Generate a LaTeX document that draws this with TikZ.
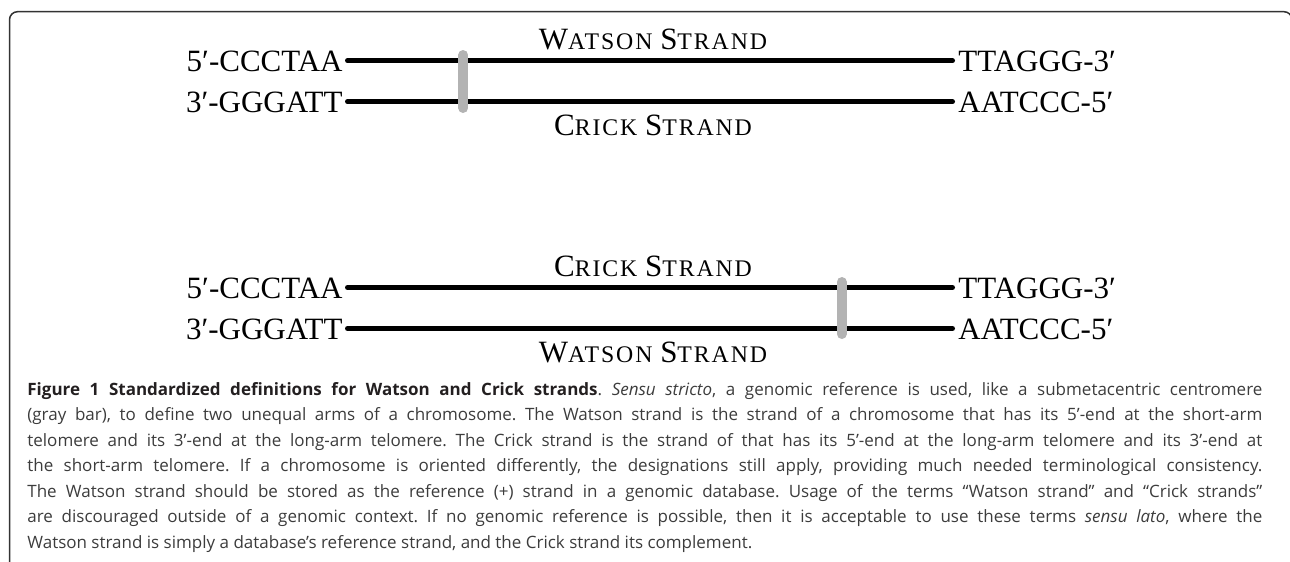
\documentclass[tikz,border=0pt]{standalone}
\usepackage{fontspec}
\setmainfont{Liberation Serif}
\newfontfamily\capfont{Open Sans}
\newfontfamily\scfont[LetterSpace=8]{Liberation Serif}
\newcommand\fsc[2]{#1{\fontsize{11.9pt}{14pt}\scfont #2}}
\definecolor{barcol}{HTML}{B3B3B3}
\definecolor{framecol}{HTML}{333333}
\definecolor{captxt}{HTML}{3C3C3C}
\definecolor{capbold}{HTML}{231F20}
\tikzset{
  strand/.style={line width=2.5pt, line cap=round, black},
  centro/.style={line width=5pt, line cap=round, barcol},
  seq/.style={inner sep=0pt, font=\fontsize{15.5pt}{18pt}\selectfont},
  lab/.style={inner sep=0pt, anchor=base, font=\fontsize{15.5pt}{18pt}\selectfont},
  captext/.style={inner sep=0pt, anchor=base west, text=captxt, font=\capfont\fontsize{8.5pt}{10pt}\selectfont\frenchspacing},
  framestyle/.style={line width=0.75pt, framecol, rounded corners=4pt}
}
\newcommand\capline[1]{\makebox[617.5pt][s]{#1}}
\begin{document}
\begin{tikzpicture}[x=0.5pt, y=-0.5pt]
\useasboundingbox (0,0) rectangle (1290,562);
% frame
\draw[framestyle] (9.5,570) -- (9.5,11.7) -- (1292,11.7) -- (1292,60);

% ---- top group ----
\coordinate (a1) at (347.5,60.7);
\coordinate (b1) at (952.5,60.7);
\coordinate (a2) at (347.5,101.7);
\coordinate (b2) at (952.5,101.7);
\node[seq, anchor=base east] (l1) at (343,71.5) {5′-CCCTAA};
\node[seq, anchor=base east] (l2) at (343,112.5) {3′-GGGATT};
\node[seq, anchor=base west] (r1) at (958,71.5) {TTAGGG-3′};
\node[seq, anchor=base west] (r2) at (958,112.5) {AATCCC-5′};
\draw[strand] (a1) -- (b1);
\draw[strand] (a2) -- (b2);
\coordinate (c1t) at (463.3,55);
\coordinate (c1b) at (463.3,108);
\draw[centro] (c1t) -- (c1b);
\node[lab] (wt) at (653,49) {\fsc{W}{ATSON} \fsc{S}{TRAND}};
\node[lab] (ct) at (653,135) {\fsc{C}{RICK} \fsc{S}{TRAND}};

% ---- bottom group ----
\coordinate (a3) at (347.5,287.5);
\coordinate (b3) at (952.5,287.5);
\coordinate (a4) at (347.5,328.5);
\coordinate (b4) at (952.5,328.5);
\node[seq, anchor=base east] (l3) at (343,298.3) {5′-CCCTAA};
\node[seq, anchor=base east] (l4) at (343,339.3) {3′-GGGATT};
\node[seq, anchor=base west] (r3) at (958,298.3) {TTAGGG-3′};
\node[seq, anchor=base west] (r4) at (958,339.3) {AATCCC-5′};
\draw[strand] (a3) -- (b3);
\draw[strand] (a4) -- (b4);
\coordinate (c2t) at (841.7,282);
\coordinate (c2b) at (841.7,334);
\draw[centro] (c2t) -- (c2b);
\node[lab] (cb) at (653,276) {\fsc{C}{RICK} \fsc{S}{TRAND}};
\node[lab] (wb) at (653,362) {\fsc{W}{ATSON} \fsc{S}{TRAND}};

% ---- caption ----
\node[captext] (cap1) at (27,395) {\capline{{\bfseries\color{capbold}Figure 1 Standardized definitions for Watson and Crick strands}. \textit{Sensu stricto}, a genomic reference is used, like a submetacentric centromere}};
\node[captext] (cap2) at (27,420.5) {\capline{(gray bar), to define two unequal arms of a chromosome. The Watson strand is the strand of a chromosome that has its 5’-end at the short-arm}};
\node[captext] (cap3) at (27,446) {\capline{telomere and its 3’-end at the long-arm telomere. The Crick strand is the strand of that has its 5’-end at the long-arm telomere and its 3’-end at}};
\node[captext] (cap4) at (27,471.5) {\capline{the short-arm telomere. If a chromosome is oriented differently, the designations still apply, providing much needed terminological consistency.}};
\node[captext] (cap5) at (27,497) {\capline{The Watson strand should be stored as the reference (+) strand in a genomic database. Usage of the terms “Watson strand” and “Crick strands”}};
\node[captext] (cap6) at (27,522.5) {\capline{are discouraged outside of a genomic context. If no genomic reference is possible, then it is acceptable to use these terms \textit{sensu lato}, where the}};
\node[captext] (cap7) at (27,548) {Watson strand is simply a database’s reference strand, and the Crick strand its complement.};
\end{tikzpicture}
\end{document}
